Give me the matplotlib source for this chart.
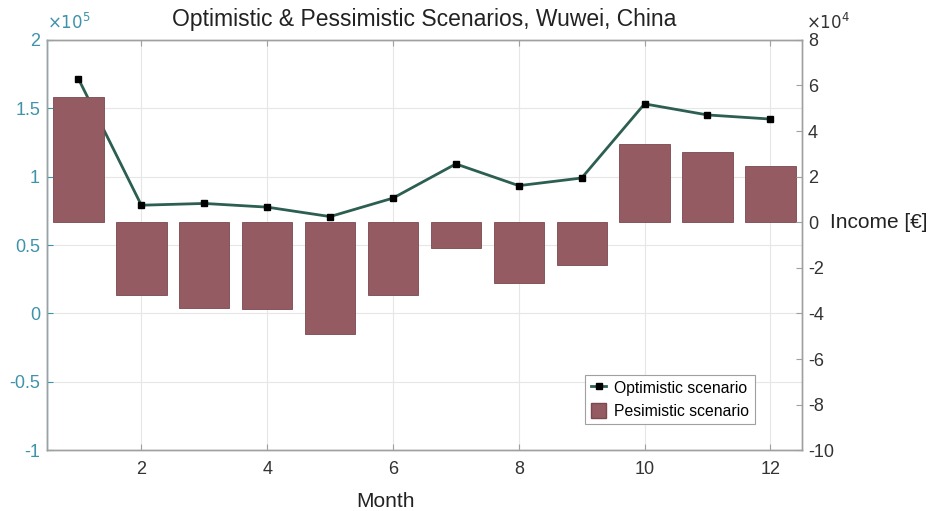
import numpy as np
import matplotlib.pyplot as plt
from matplotlib.ticker import FuncFormatter
from matplotlib.lines import Line2D
from matplotlib.patches import Patch

plt.rcParams['font.family'] = ['Liberation Sans', 'DejaVu Sans']

months = np.arange(1, 13)
optimistic = [171500, 79100, 80400, 77700, 70800, 84300,
              109300, 93400, 99000, 153200, 145100, 142100]
pessimistic = [54900, -31900, -37700, -38000, -49000, -32100,
               -11400, -26500, -18600, 34100, 31000, 24800]

title = "Optimistic & Pessimistic Scenarios, Wuwei, China"
teal = '#3d93aa'
bar_c = '#955b62'
line_c = '#2d5e52'
spine_c = '#a0a0a0'

fig = plt.figure(figsize=(9.4, 5.11), dpi=100)
ax = fig.add_axes([0.05, 0.119, 0.803, 0.803])
ax2 = ax.twinx()

# left axis: optimistic line
ax.plot(months, optimistic, color=line_c, lw=2, marker='s', ms=5,
        mfc='black', mec='black', zorder=3)
ax.set_xlim(0.5, 12.5)
ax.set_ylim(-1e5, 2e5)
ax.set_yticks(np.arange(-1e5, 2.01e5, 0.5e5))
ax.yaxis.set_major_formatter(FuncFormatter(lambda v, p: f"{v/1e5:g}"))
ax.set_xticks(range(2, 13, 2))
ax.grid(True, color='#e6e6e6', lw=0.8)
ax.set_axisbelow(True)
ax.tick_params(axis='y', colors=teal, direction='in', length=4, labelsize=13, pad=5)
ax.tick_params(axis='x', colors=spine_c, labelcolor='#333333', direction='in',
               length=4, labelsize=13, top=True, pad=8)
ax.set_xlabel('Month', fontsize=15, color='#222222', va='center')
ax.xaxis.set_label_coords(0.449, -0.126)
ax.set_title(title, fontsize=16.5, color='#222222', pad=10)
ax.text(0.0, 1.02, r'$\times10^{5}$', transform=ax.transAxes, color=teal,
        fontsize=12, ha='left', va='bottom')

# right axis: pessimistic bars
ax2.bar(months, pessimistic, width=0.8, color=bar_c, edgecolor='#7a484d', lw=0.6)
ax2.set_ylim(-1e5, 8e4)
ax2.set_yticks(np.arange(-1e5, 8.01e4, 2e4))
ax2.yaxis.set_major_formatter(FuncFormatter(lambda v, p: f"{v/1e4:g}"))
ax2.tick_params(axis='y', colors=spine_c, labelcolor='#333333', direction='in',
                length=4, labelsize=13, pad=4.5)
ax2.set_ylabel('Income [€]', rotation=0, ha='left', va='center',
               fontsize=15, color='#222222')
ax2.yaxis.set_label_coords(1.037, 0.556)
ax2.text(1.005, 1.02, r'$\times10^{4}$', transform=ax2.transAxes, color='#333333',
         fontsize=12, ha='left', va='bottom')

for a in (ax, ax2):
    for s in a.spines.values():
        s.set_color(spine_c)
        s.set_linewidth(1)
ax.spines['left'].set_color(teal)

handles = [
    Line2D([0], [0], color=line_c, lw=2, marker='s', ms=4, mfc='black', mec='black'),
    Patch(facecolor=bar_c, edgecolor='#7a484d'),
]
leg = ax2.legend(handles, ['Optimistic scenario', 'Pesimistic scenario'],
                 loc='lower left', bbox_to_anchor=(0.713, 0.063),
                 fancybox=False, framealpha=1, edgecolor=spine_c,
                 fontsize=11.3, handlelength=1.0, handleheight=1.1,
                 handletextpad=0.5, borderpad=0.35,
                 labelspacing=0.45, borderaxespad=0)
leg.get_frame().set_linewidth(0.8)

fig.savefig('out.png', dpi=100)
